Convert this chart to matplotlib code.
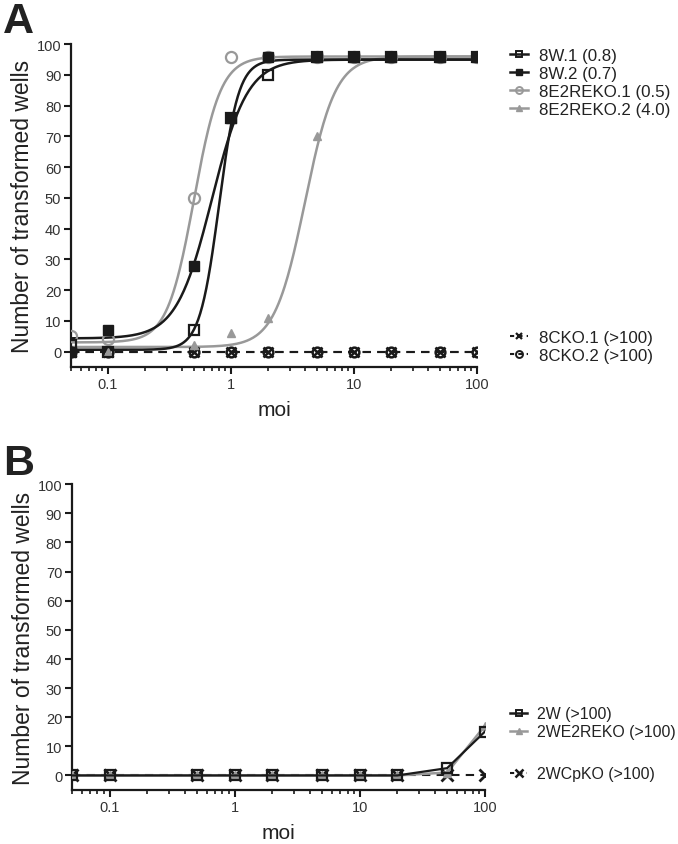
import numpy as np
import matplotlib
matplotlib.use("Agg")
import matplotlib.pyplot as plt
from matplotlib.ticker import LogLocator, NullFormatter, FixedLocator, FixedFormatter
from matplotlib.lines import Line2D

plt.rcParams['font.family'] = ['Liberation Sans', 'DejaVu Sans']

# ---- data ----
moi = [0.05, 0.1, 0.5, 1, 2, 5, 10, 20, 50, 100]

# panel A
w1 = [2, 0, 7, 76, 90, 96, 96, 96, 96, 96]
w2 = [0, 7, 28, 76, 96, 96, 96, 96, 96, 96]
reko1 = [5, 4, 50, 96, 96, 96, 96, 96, 96, 96]
reko2 = [0, 0, 2, 6, 11, 70, 96, 96, 96, 96]
cko1 = [0, 0, 0, 0, 0, 0, 0, 0, 0, 0]
cko2 = [0, 0, 0, 0, 0, 0, 0, 0, 0, 0]

# fitted sigmoid parameters: bottom, top, EC50, hill slope
fit_w1 = (0.6, 95, 0.8, 5.5)
fit_w2 = (4.3, 95, 0.7, 3.0)
fit_reko1 = (3.0, 96, 0.5, 4.0)
fit_reko2 = (1.5, 96, 4.0, 3.5)

labels_a = ['8W.1 (0.8)', '8W.2 (0.7)', '8E2REKO.1 (0.5)', '8E2REKO.2 (4.0)']
labels_a2 = ['8CKO.1 (>100)', '8CKO.2 (>100)']

# panel B
b_2w = [0, 0, 0, 0, 0, 0, 0, 0, 2.5, 15]
b_2wreko = [0, 0, 0, 0, 0, 0, 0, 0, 1, 17]
b_2wcpko = [0, 0, 0, 0, 0, 0, 0, 0, 0, 0]
labels_b = ['2W (>100)', '2WE2REKO (>100)']
labels_b2 = ['2WCpKO (>100)']

BLACK = '#1a1a1a'
GRAY = '#999999'
TXT = '#222222'


def sigmoid(x, p):
  bottom, top, ec50, h = p
  return bottom + (top - bottom) / (1 + 10 ** ((np.log10(ec50) - np.log10(x)) * h))


def style_axes(ax):
  ax.set_xscale('log')
  ax.set_xlim(0.05, 100)
  ax.set_ylim(-5, 100)
  for s in ['top', 'right']:
    ax.spines[s].set_visible(False)
  for s in ['left', 'bottom']:
    ax.spines[s].set_linewidth(1.6)
    ax.spines[s].set_color(BLACK)
  ax.yaxis.set_major_locator(FixedLocator(range(0, 101, 10)))
  ax.xaxis.set_major_locator(FixedLocator([0.1, 1, 10, 100]))
  ax.xaxis.set_major_formatter(FixedFormatter(['0.1', '1', '10', '100']))
  ax.xaxis.set_minor_locator(LogLocator(base=10, subs=np.arange(2, 10), numticks=20))
  ax.xaxis.set_minor_formatter(NullFormatter())
  ax.tick_params(which='major', length=5, width=1.5, color=BLACK, labelsize=10.5, labelcolor='#333333', pad=2)
  ax.tick_params(which='minor', length=3, width=1.2, color=BLACK)
  ax.set_xlabel('moi', fontsize=15, color=TXT, labelpad=7)
  ax.set_ylabel('Number of transformed wells', fontsize=16.5, color=TXT, labelpad=2)


def legend(handles, labels, x, y, size=12.2):
  return fig.legend(handles, labels, loc='upper left', bbox_to_anchor=(x, y), frameon=False,
                    fontsize=size, handlelength=1.1, handletextpad=0.6, labelspacing=0.18,
                    borderpad=0, borderaxespad=0, labelcolor=TXT)


fig = plt.figure(figsize=(6.78, 8.45), dpi=100)
axA = fig.add_axes([0.1047, 0.5645, 0.5988, 0.382])
axB = fig.add_axes([0.106, 0.0639, 0.609, 0.362])

# ---- panel A ----
xs = np.logspace(np.log10(0.05), 2, 400)
ms = 7
axA.plot(moi, cko1, ls=(0, (4, 3)), color=BLACK, lw=1.5, marker='x', ms=ms, mew=1.8, zorder=3)
axA.plot(moi, cko2, ls=(0, (4, 3)), color=BLACK, lw=1.5, marker='o', ms=ms, mfc='none', mew=1.8, zorder=3)
axA.plot(xs, sigmoid(xs, fit_reko2), color=GRAY, lw=1.8, zorder=2)
axA.plot(xs, sigmoid(xs, fit_reko1), color=GRAY, lw=1.8, zorder=2)
axA.plot(xs, sigmoid(xs, fit_w2), color=BLACK, lw=1.8, zorder=2)
axA.plot(xs, sigmoid(xs, fit_w1), color=BLACK, lw=1.8, zorder=2)
axA.plot(moi, reko2, ls='none', marker='^', ms=ms - 1, color=GRAY, zorder=4)
axA.plot(moi, reko1, ls='none', marker='o', ms=ms + 1, mfc='none', mec=GRAY, mew=1.6, zorder=4)
axA.plot(moi, w2, ls='none', marker='s', ms=ms, color=BLACK, zorder=4)
axA.plot(moi, w1, ls='none', marker='s', ms=ms, mfc='none', mec=BLACK, mew=1.6, zorder=4)
style_axes(axA)

h_a = [
  Line2D([], [], color=BLACK, lw=1.8, marker='s', ms=ms - 2, mfc='none', mew=1.4),
  Line2D([], [], color=BLACK, lw=1.8, marker='s', ms=ms - 2),
  Line2D([], [], color=GRAY, lw=1.8, marker='o', ms=ms - 2, mfc='none', mew=1.4),
  Line2D([], [], color=GRAY, lw=1.8, marker='^', ms=ms - 2),
]
h_a2 = [
  Line2D([], [], color=BLACK, lw=1.5, ls=(0, (2, 2)), marker='x', ms=ms - 2, mew=1.6),
  Line2D([], [], color=BLACK, lw=1.5, ls=(0, (2, 2)), marker='o', ms=ms - 2, mfc='none', mew=1.4),
]
legend(h_a, labels_a, 0.752, 0.942)
legend(h_a2, labels_a2, 0.752, 0.608)

# ---- panel B ----
axB.plot(moi, b_2wcpko, ls=(0, (4, 3)), color=BLACK, lw=1.5, marker='x', ms=ms + 1, mew=2, zorder=3)
axB.plot(moi, b_2wreko, color=GRAY, lw=1.8, marker='^', ms=ms - 1, zorder=4)
axB.plot(moi, b_2w, color=BLACK, lw=1.6, marker='s', ms=ms, mfc='none', mew=1.6, zorder=5)
style_axes(axB)

h_b = [
  Line2D([], [], color=BLACK, lw=1.8, marker='s', ms=ms - 2, mfc='none', mew=1.4),
  Line2D([], [], color=GRAY, lw=1.8, marker='^', ms=ms - 2),
]
h_b2 = [Line2D([], [], color=BLACK, lw=1.5, ls=(0, (2, 2)), marker='x', ms=ms - 1, mew=1.8)]
legend(h_b, labels_b, 0.752, 0.163, size=11.4)
legend(h_b2, labels_b2, 0.752, 0.092, size=11.4)

fig.text(0.005, 0.998, 'A', fontsize=31, fontweight='bold', color=TXT, va='top', ha='left')
fig.text(0.005, 0.475, 'B', fontsize=31, fontweight='bold', color=TXT, va='top', ha='left')

fig.savefig('out.png', dpi=100)
